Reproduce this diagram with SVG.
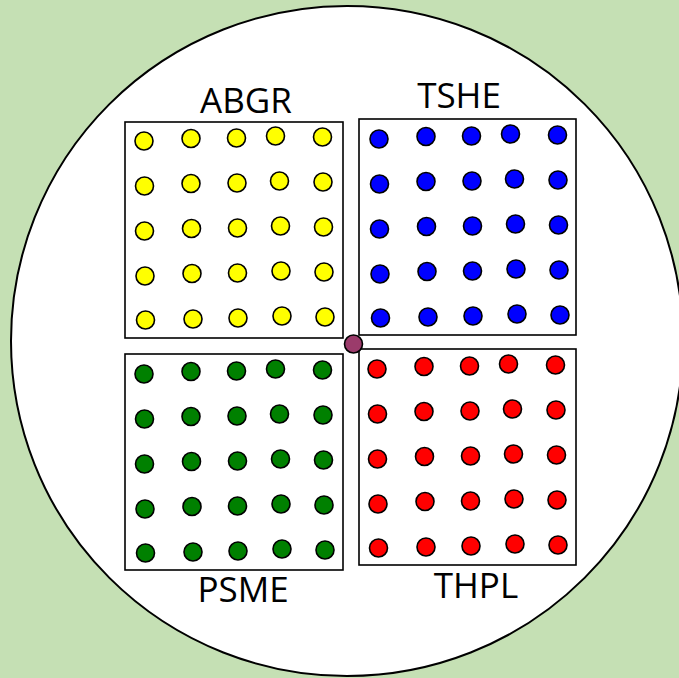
<svg xmlns="http://www.w3.org/2000/svg" xmlns:xlink="http://www.w3.org/1999/xlink" width="679" height="678" viewBox="0 0 679 678">
<style>
.dot{stroke:#000;stroke-width:1.6}
.box{fill:#fff;stroke:#000;stroke-width:1.6}
.lbl{font-family:"Open Sans","Liberation Sans",sans-serif;font-size:35px;fill:#000;text-anchor:middle}
</style>
<defs>
<g id="grid">
<circle class="dot" r="9" cx="19" cy="19"/><circle class="dot" r="9" cx="66" cy="16.5"/><circle class="dot" r="9" cx="111.5" cy="16"/><circle class="dot" r="9" cx="150.5" cy="14"/><circle class="dot" r="9" cx="197.5" cy="15"/>
<circle class="dot" r="9" cx="19.5" cy="64"/><circle class="dot" r="9" cx="66" cy="61.5"/><circle class="dot" r="9" cx="112" cy="61"/><circle class="dot" r="9" cx="154.5" cy="59"/><circle class="dot" r="9" cx="198" cy="60"/>
<circle class="dot" r="9" cx="19.5" cy="109"/><circle class="dot" r="9" cx="66.5" cy="106.5"/><circle class="dot" r="9" cx="112.5" cy="106"/><circle class="dot" r="9" cx="155.5" cy="104"/><circle class="dot" r="9" cx="198.5" cy="105"/>
<circle class="dot" r="9" cx="20" cy="154"/><circle class="dot" r="9" cx="67" cy="151.5"/><circle class="dot" r="9" cx="112.5" cy="151"/><circle class="dot" r="9" cx="156" cy="149"/><circle class="dot" r="9" cx="199" cy="150"/>
<circle class="dot" r="9" cx="20.5" cy="198"/><circle class="dot" r="9" cx="68" cy="197"/><circle class="dot" r="9" cx="113" cy="196"/><circle class="dot" r="9" cx="157" cy="194"/><circle class="dot" r="9" cx="200" cy="195"/>
</g>
</defs>
<rect x="0" y="0" width="679" height="678" fill="#C5E0B4"/>
<ellipse cx="347" cy="341" rx="336" ry="335" fill="#fff" stroke="#000" stroke-width="2"/>
<g id="ABGR">
<rect class="box" x="125" y="122" width="218" height="216"/>
<use xlink:href="#grid" href="#grid" transform="translate(125,122)" fill="#FFFF00"/>
<text class="lbl" x="246" y="113">ABGR</text>
</g>
<g id="TSHE">
<rect class="box" x="359" y="119" width="217" height="216"/>
<use xlink:href="#grid" href="#grid" transform="translate(360,120)" fill="#0000FF"/>
<text class="lbl" x="459" y="108">TSHE</text>
</g>
<g id="PSME">
<rect class="box" x="125" y="354" width="218" height="216"/>
<use xlink:href="#grid" href="#grid" transform="translate(125,355)" fill="#008000"/>
<text class="lbl" x="243" y="602">PSME</text>
</g>
<g id="THPL">
<rect class="box" x="359" y="349" width="217" height="216"/>
<use xlink:href="#grid" href="#grid" transform="translate(358,350)" fill="#FF0000"/>
<text class="lbl" x="476" y="598">THPL</text>
</g>
<g id="center">
<circle cx="353.5" cy="344" r="9" fill="#9B3B6B" stroke="#000" stroke-width="1.6"/>
</g>
<g id="connectors"/>
</svg>
